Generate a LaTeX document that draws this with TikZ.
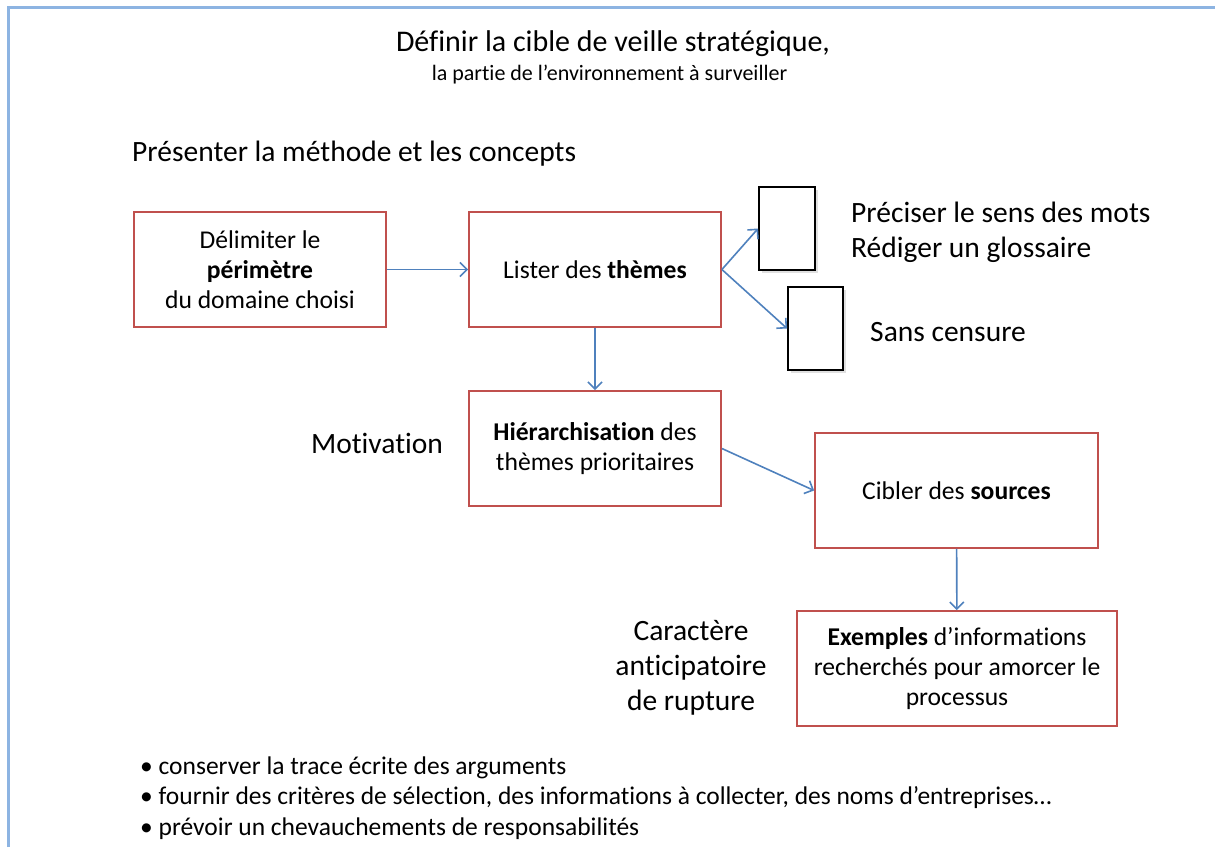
\documentclass[tikz,border=0pt]{standalone}
\usepackage{fontspec}
\setmainfont{Carlito}[Ligatures=NoCommon]
\usetikzlibrary{arrows.meta,shadows}
\definecolor{boxred}{RGB}{192,80,77}
\definecolor{linkblue}{RGB}{79,129,189}
\definecolor{frameblue}{RGB}{141,180,226}
\tikzset{
  cadre/.style={draw=boxred, line width=1.8pt, fill=white, minimum width=252pt, minimum height=115pt, align=center, inner sep=0pt, font=\fontsize{25.6}{30}\selectfont},
  vide/.style={draw=black, line width=1.8pt, fill=white, minimum width=56pt, minimum height=83pt, inner sep=0pt, drop shadow={shadow xshift=3pt, shadow yshift=-3pt, fill=black!20, opacity=0.6}},
  lien/.style={draw=linkblue, line width=1.6pt, -{Straight Barb[length=7pt,width=14pt,line width=1.6pt]}},
  grand/.style={inner sep=0pt, font=\fontsize{29.5}{35}\selectfont},
}
\begin{document}
\begin{tikzpicture}[x=1pt,y=-1pt]
  \useasboundingbox (0,0) rectangle (1215,847);
  % cadre de la page
  \draw[frameblue, line width=3pt] (8,847) -- (8,7.5) -- (1215,7.5);
  % titre
  \node[inner sep=0pt, font=\fontsize{30}{36}\selectfont] (titre) at (613,44) {Définir la cible de veille stratégique,};
  \node[inner sep=0pt, font=\fontsize{22}{26}\selectfont] (soustitre) at (609.5,74.5) {la partie de l’environnement à surveiller};
  \node[grand, anchor=west] (methode) at (132,154) {Présenter la méthode et les concepts};
  % les cadres
  \node[cadre] (perimetre) at (260,269.5) {Délimiter le\\\textbf{périmètre}\\du domaine choisi};
  \node[cadre] (themes) at (595,269.5) {Lister des \textbf{thèmes}};
  \node[cadre] (hierarchie) at (595,448.5) {\textbf{Hiérarchisation} des\\thèmes prioritaires};
  \node[cadre, minimum width=283pt] (sources) at (956.5,490.5) {Cibler des \textbf{sources}};
  \node[cadre, minimum width=320pt] (exemples) at (957,668.5) {\textbf{Exemples} d’informations\\recherchés pour amorcer le\\processus};
  \node[vide] (mots) at (787,228.5) {};
  \node[vide, minimum width=55pt] (censure) at (815.5,328.5) {};
  % textes libres
  \node[grand, anchor=west, align=left] (glossaire) at (851,232) {Préciser le sens des mots\\Rédiger un glossaire};
  \node[grand, anchor=west] (sans) at (870,332) {Sans censure};
  \node[grand] (motivation) at (377,443) {Motivation};
  \node[grand, align=center] (rupture) at (691,668) {Caractère\\anticipatoire\\de rupture};
  \node[inner sep=0pt, anchor=west, align=left, font=\fontsize{25.5}{30.5}\selectfont] (puces) at (140,798)
    {• conserver la trace écrite des arguments\\
     • fournir des critères de sélection, des informations à collecter, des noms d’entreprises…\\
     • prévoir un chevauchements de responsabilités};
  % liens
  \draw[lien] (perimetre) -- (themes);
  \draw[lien] (themes) -- (hierarchie);
  \draw[lien] (themes.east) -- (mots.west);
  \draw[lien] (themes.east) -- (censure.west);
  \draw[lien] (hierarchie.east) -- (sources.west);
  \draw[lien] (sources) -- (exemples);
\end{tikzpicture}
\end{document}
